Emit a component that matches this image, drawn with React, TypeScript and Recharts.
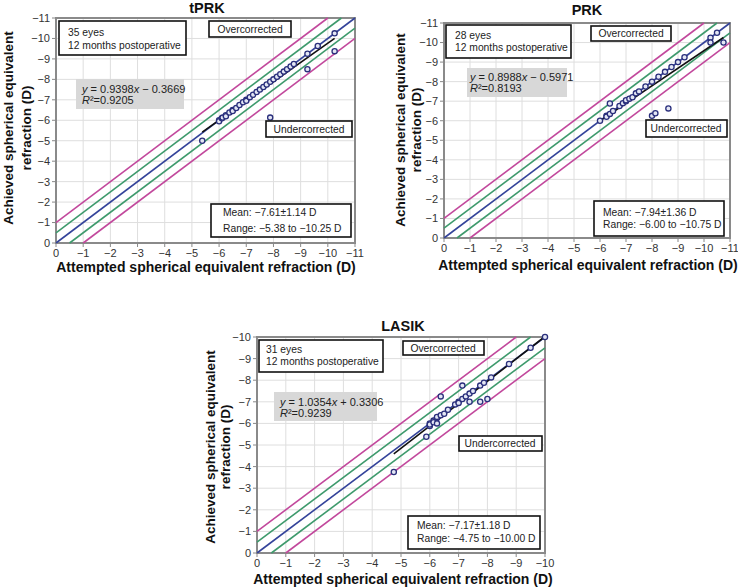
import React from "react";
import { CartesianGrid, ReferenceArea, ReferenceLine, Scatter, ScatterChart, XAxis, YAxis } from "recharts";

// tPRK (35 eyes)
const tprkAttempted = [-5.38, -6.0, -6.0, -6.1, -6.13, -6.25, -6.25, -6.38, -6.5, -6.5, -6.63, -6.75, -6.88, -7.0, -7.0, -7.13, -7.25, -7.38, -7.5, -7.63, -7.75, -7.88, -7.88, -8.0, -8.13, -8.25, -8.38, -8.5, -8.63, -8.75, -9.25, -9.25, -9.63, -10.25, -10.25];
const tprkAchieved = [-5.0, -6.0, -5.95, -6.1, -6.13, -6.25, -6.2, -6.38, -6.5, -6.45, -6.6, -6.75, -6.88, -7.0, -6.95, -7.13, -7.25, -7.38, -7.5, -7.63, -7.75, -7.88, -6.13, -8.0, -8.13, -8.25, -8.38, -8.5, -8.63, -8.75, -9.25, -8.5, -9.63, -10.25, -9.38];

// PRK (28 eyes)
const prkAttempted = [-6.0, -6.25, -6.25, -6.38, -6.38, -6.5, -6.75, -6.88, -7.0, -7.0, -7.13, -7.25, -7.38, -7.5, -7.75, -8.0, -8.0, -8.13, -8.25, -8.5, -8.63, -8.75, -9.0, -9.25, -10.25, -10.25, -10.5, -10.75];
const prkAchieved = [-6.0, -6.25, -6.2, -6.35, -6.88, -6.5, -6.75, -6.9, -7.0, -7.05, -7.13, -7.2, -7.4, -7.5, -7.75, -8.0, -6.25, -6.38, -8.25, -8.5, -6.63, -8.75, -9.0, -9.25, -10.25, -10.0, -10.5, -10.0];

// LASIK (31 eyes)
const lasikAttempted = [-4.75, -5.88, -6.0, -6.0, -6.0, -6.13, -6.13, -6.25, -6.25, -6.25, -6.38, -6.38, -6.5, -6.63, -6.88, -7.0, -7.0, -7.13, -7.13, -7.25, -7.38, -7.38, -7.5, -7.75, -7.75, -7.88, -8.0, -8.13, -8.75, -9.5, -10.0];
const lasikAchieved = [-3.75, -5.38, -6.0, -5.88, -5.95, -6.13, -6.05, -6.25, -6.0, -6.3, -6.38, -7.25, -6.45, -6.63, -6.88, -7.0, -6.95, -7.13, -7.75, -7.25, -7.38, -7.0, -7.5, -7.75, -7.0, -7.88, -7.13, -8.13, -8.75, -9.5, -10.0];

const ticks11 = [0, -1, -2, -3, -4, -5, -6, -7, -8, -9, -10, -11];
const ticks10 = [0, -1, -2, -3, -4, -5, -6, -7, -8, -9, -10];

// y = x + offset
const diagOffsets = [-1, -0.5, 0, 0.5, 1];
const diagColors = ["#c2489c", "#3e9a6c", "#34439a", "#3e9a6c", "#c2489c"];

const FONT = "'Liberation Sans', Arial, sans-serif";

const fmt = (v: number) => (v === 0 ? "0" : "\u2212" + Math.abs(v));

type Fit = { slope: number; intercept: number; from: number; to: number };

function Dot(p: any) {
  return <circle cx={p.cx} cy={p.cy} r={2.6} fill="#e3e6f4" stroke="#2a2f7c" strokeWidth={1.3} />;
}

function Panel({
  attempted,
  achieved,
  fit,
  ticks,
  left,
  top,
  width,
  height,
  margin,
}: {
  attempted: number[];
  achieved: number[];
  fit: Fit;
  ticks: number[];
  left: number;
  top: number;
  width: number;
  height: number;
  margin: { top: number; right: number; bottom: number; left: number };
}) {
  const min = ticks[ticks.length - 1];
  const data = attempted.map((x, i) => ({ x, y: achieved[i] }));
  return (
    <div style={{ position: "absolute", left, top }}>
      <ScatterChart width={width} height={height} margin={margin}>
        <CartesianGrid stroke="#dedede" />
        <XAxis
          type="number"
          dataKey="x"
          domain={[min, 0]}
          reversed
          ticks={ticks}
          tickFormatter={fmt}
          axisLine={false}
          tickLine={{ stroke: "#888" }}
          tickSize={4}
          height={30}
          interval={0}
          tick={{ fontSize: 11, fill: "#333", fontFamily: FONT }}
        />
        <YAxis
          type="number"
          dataKey="y"
          domain={[min, 0]}
          reversed
          ticks={ticks}
          tickFormatter={fmt}
          axisLine={false}
          tickLine={{ stroke: "#888" }}
          tickSize={4}
          width={30}
          interval={0}
          tick={{ fontSize: 11, fill: "#333", fontFamily: FONT }}
        />
        {diagOffsets.map((d, i) => (
          <ReferenceLine
            key={i}
            segment={[
              { x: Math.min(0, -d), y: Math.min(0, -d) + d },
              { x: Math.max(min, min - d), y: Math.max(min, min - d) + d },
            ]}
            stroke={diagColors[i]}
            strokeWidth={1.6}
          />
        ))}
        <ReferenceLine
          segment={[
            { x: fit.from, y: fit.slope * fit.from + fit.intercept },
            { x: fit.to, y: fit.slope * fit.to + fit.intercept },
          ]}
          stroke="#111"
          strokeWidth={1.6}
          ifOverflow="visible"
        />
        <Scatter data={data} shape={Dot} isAnimationActive={false} />
        <ReferenceArea x1={min} x2={0} y1={min} y2={0} fill="none" stroke="#8a8a8a" strokeWidth={2} ifOverflow="visible" />
      </ScatterChart>
    </div>
  );
}

function Box({ x1, y1, x2, y2, fill = "#fff", stroke = "#111" }: any) {
  return <rect x={x1} y={y1} width={x2 - x1} height={y2 - y1} fill={fill} stroke={stroke} strokeWidth={stroke === "none" ? 0 : 1.6} />;
}

function Eq({ x, y1, y2, slope, intercept, r2 }: any) {
  return (
    <g fontSize={11}>
      <text x={x} y={y1}>
        <tspan fontStyle="italic">y</tspan> = {slope}
        <tspan fontStyle="italic">x</tspan> {intercept}
      </text>
      <text x={x} y={y2}>
        <tspan fontStyle="italic">R</tspan>²={r2}
      </text>
    </g>
  );
}

function YTitle({ x1, x2, cy }: { x1: number; x2: number; cy: number }) {
  return (
    <g fontWeight="bold" fontSize={13.5} textAnchor="middle" fill="#111">
      <text transform={`translate(${x1},${cy}) rotate(-90)`}>Achieved spherical equivalent</text>
      <text transform={`translate(${x2},${cy}) rotate(-90)`}>refraction (D)</text>
    </g>
  );
}

function Overlay() {
  return (
    <svg width={738} height={587} style={{ position: "absolute", left: 0, top: 0, pointerEvents: "none" }} fontFamily={FONT}>
      {/* titles */}
      <g fontWeight="bold" fontSize={14.5} textAnchor="middle" fill="#111">
        <text x={207} y={13}>tPRK</text>
        <text x={587} y={15}>PRK</text>
        <text x={403} y={331}>LASIK</text>
      </g>
      <g fontWeight="bold" fontSize={14} textAnchor="middle" fill="#111">
        <text x={206} y={272}>Attempted spherical equivalent refraction (D)</text>
        <text x={588} y={270}>Attempted spherical equivalent refraction (D)</text>
        <text x={403} y={584}>Attempted spherical equivalent refraction (D)</text>
      </g>
      <YTitle x1={13} x2={31} cy={128} />
      <YTitle x1={405} x2={421} cy={130} />
      <YTitle x1={215} x2={230} cy={447} />

      <g fontSize={10.3} fill="#222">
        {/* tPRK */}
        <Box x1={59} y1={21} x2={186} y2={55} />
        <text x={68} y={36}>35 eyes</text>
        <text x={68} y={49}>12 months postoperative</text>
        <Box x1={209} y1={21} x2={291} y2={37} />
        <text x={250} y={33} textAnchor="middle">Overcorrected</text>
        <Box x1={76} y1={79} x2={184} y2={109} fill="#d8d8d8" stroke="none" />
        <Eq x={82} y1={93} y2={104} slope="0.9398" intercept={"\u2212 0.3669"} r2="0.9205" />
        <Box x1={266} y1={121} x2={352} y2={137} />
        <text x={309} y={133} textAnchor="middle">Undercorrected</text>
        <Box x1={211} y1={204} x2={351} y2={237} />
        <text x={223} y={216}>Mean: {"\u2212"}7.61±1.14 D</text>
        <text x={223} y={232}>Range: {"\u2212"}5.38 to {"\u2212"}10.25 D</text>

        {/* PRK */}
        <Box x1={446} y1={25} x2={571} y2={58} />
        <text x={455} y={39}>28 eyes</text>
        <text x={455} y={51}>12 months postoperative</text>
        <Box x1={591} y1={26} x2={671} y2={41} />
        <text x={631} y={37} textAnchor="middle">Overcorrected</text>
        <Box x1={467} y1={68} x2={567} y2={97} fill="#d8d8d8" stroke="none" />
        <Eq x={470} y1={81} y2={92} slope="0.8988" intercept={"\u2212 0.5971"} r2="0.8193" />
        <Box x1={646} y1={120} x2={727} y2={137} />
        <text x={686} y={132} textAnchor="middle">Undercorrected</text>
        <Box x1={594} y1={201} x2={724} y2={236} />
        <text x={603} y={216}>Mean: {"\u2212"}7.94±1.36 D</text>
        <text x={603} y={228}>Range: {"\u2212"}6.00 to {"\u2212"}10.75 D</text>

        {/* LASIK */}
        <Box x1={259} y1={340} x2={383} y2={372} />
        <text x={266} y={353}>31 eyes</text>
        <text x={266} y={365}>12 months postoperative</text>
        <Box x1={403} y1={341} x2={484} y2={355} />
        <text x={443} y={352} textAnchor="middle">Overcorrected</text>
        <Box x1={274} y1={392} x2={377} y2={421} fill="#d8d8d8" stroke="none" />
        <Eq x={280} y1={406} y2={417} slope="1.0354" intercept="+ 0.3306" r2="0.9239" />
        <Box x1={459} y1={436} x2={542} y2={451} />
        <text x={500} y={447} textAnchor="middle">Undercorrected</text>
        <Box x1={408} y1={516} x2={540} y2={549} />
        <text x={417} y={529}>Mean: {"\u2212"}7.17±1.18 D</text>
        <text x={417} y={542}>Range: {"\u2212"}4.75 to {"\u2212"}10.00 D</text>
      </g>
    </svg>
  );
}

export default function App() {
  return (
    <div style={{ position: "absolute", left: 0, top: 0, width: 738, height: 587, background: "#fff", fontFamily: FONT }}>
      <Panel
        attempted={tprkAttempted}
        achieved={tprkAchieved}
        fit={{ slope: 0.9398, intercept: -0.3669, from: -5.38, to: -10.25 }}
        ticks={ticks11}
        left={0}
        top={0}
        width={370}
        height={290}
        margin={{ top: 18, right: 15, bottom: 17, left: 26 }}
      />
      <Panel
        attempted={prkAttempted}
        achieved={prkAchieved}
        fit={{ slope: 0.8988, intercept: -0.5971, from: -6.0, to: -10.75 }}
        ticks={ticks11}
        left={370}
        top={0}
        width={368}
        height={290}
        margin={{ top: 23, right: 8, bottom: 22, left: 44 }}
      />
      <Panel
        attempted={lasikAttempted}
        achieved={lasikAchieved}
        fit={{ slope: 1.0354, intercept: 0.3306, from: -4.75, to: -10.0 }}
        ticks={ticks10}
        left={180}
        top={290}
        width={380}
        height={297}
        margin={{ top: 47, right: 15, bottom: 4, left: 47 }}
      />
      <Overlay />
    </div>
  );
}
